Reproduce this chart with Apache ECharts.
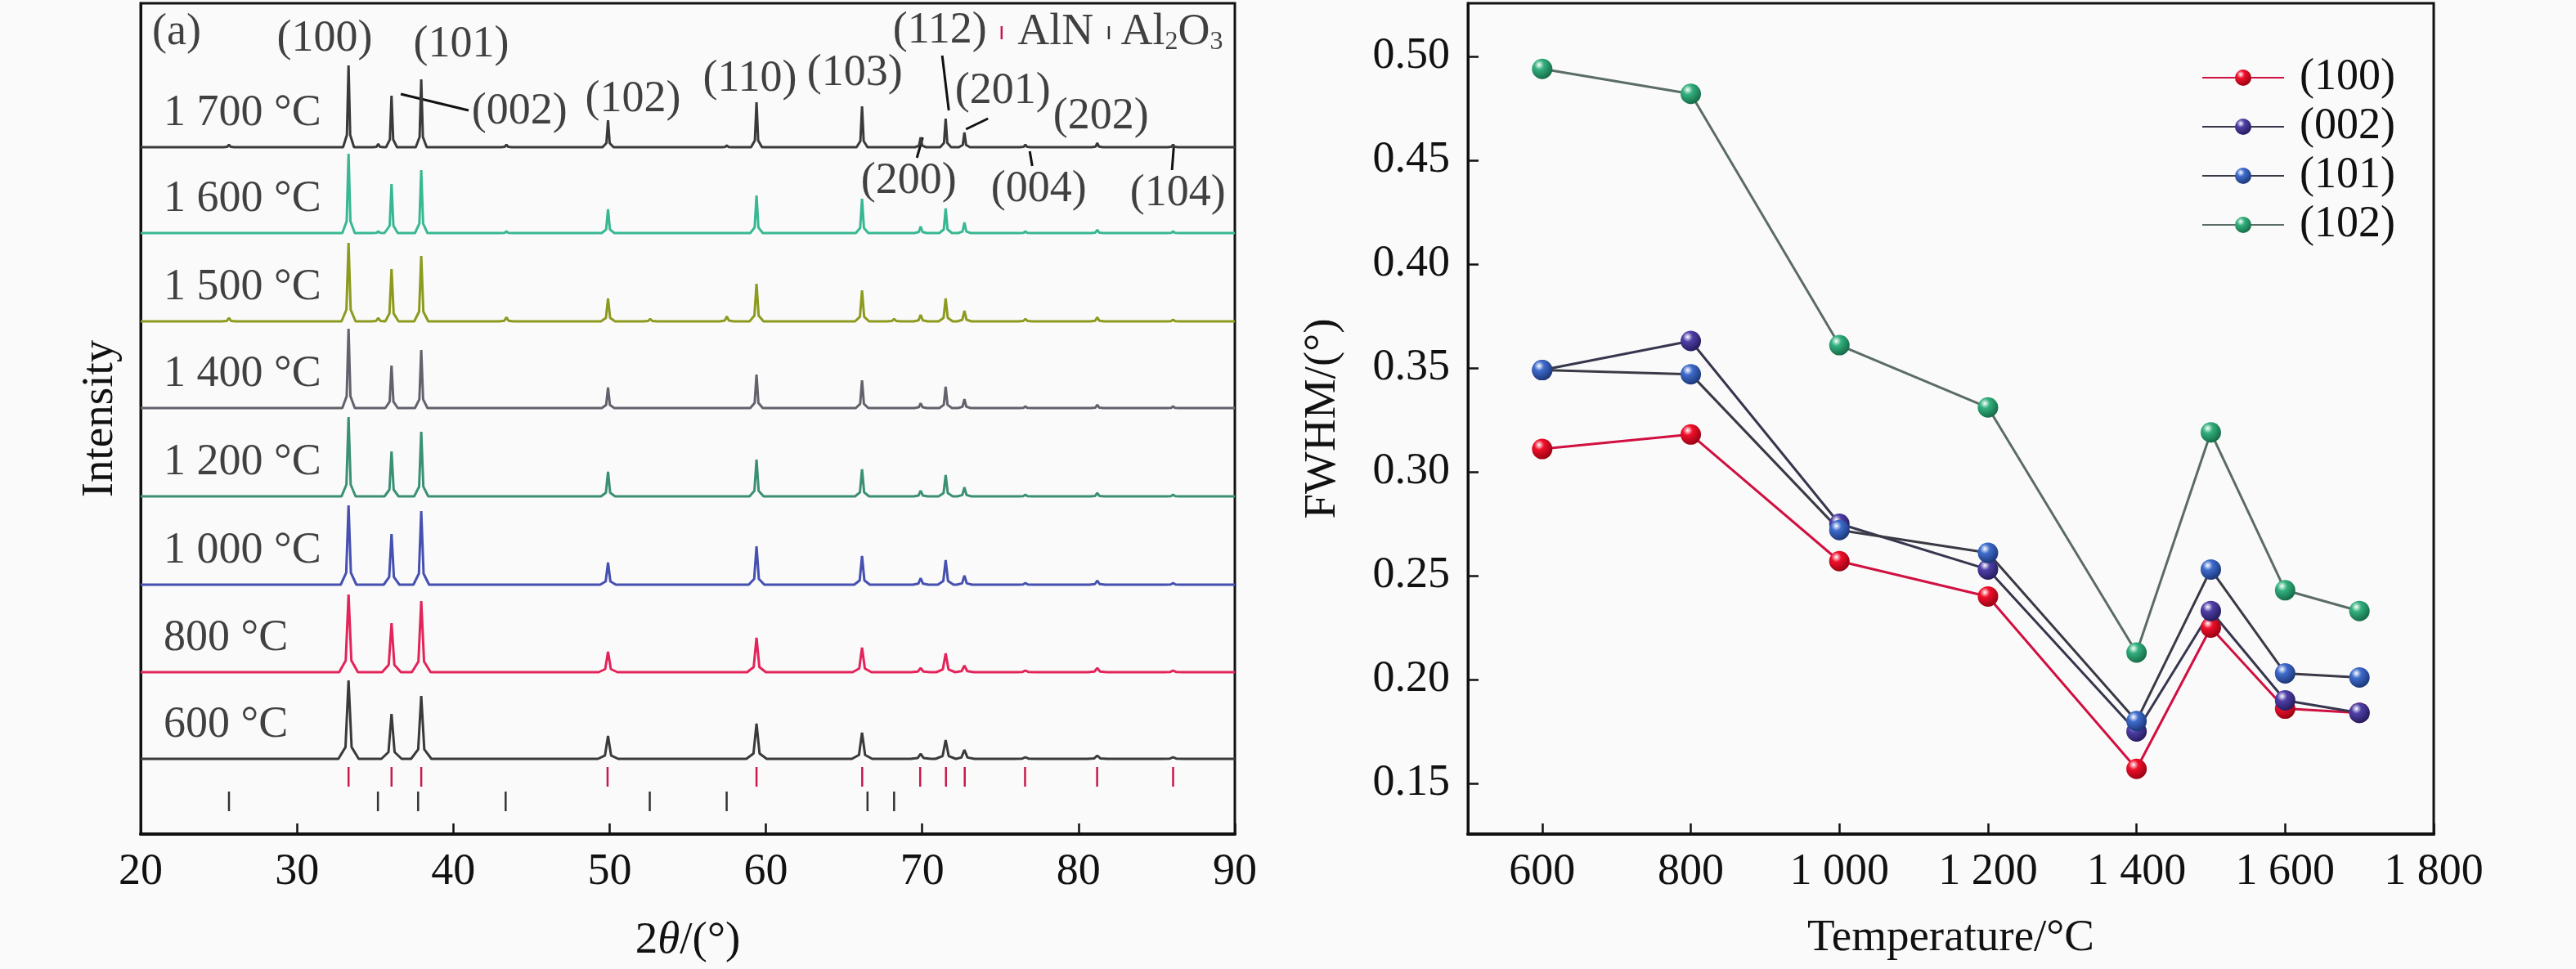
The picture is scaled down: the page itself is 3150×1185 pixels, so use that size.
<!DOCTYPE html>
<html>
<head>
<meta charset="utf-8">
<script src="https://cdn.jsdelivr.net/npm/echarts@6.0.0/dist/echarts.min.js"></script>
<style>
  html, body { margin: 0; padding: 0; background: #fafafa; }
  #main { width: 3150px; height: 1185px; }
</style>
</head>
<body>
<div id="main"></div>
<script>
// ---- (a) XRD patterns ----
const temps = ['600 °C', '800 °C', '1 000 °C', '1 200 °C', '1 400 °C', '1 500 °C', '1 600 °C', '1 700 °C'];
const offsets = [92, 198, 305, 413, 521, 627, 735, 840];
const halfWidths = [0.65, 0.6, 0.5, 0.45, 0.4, 0.45, 0.4, 0.35];
const lineColors = ['#3a3a3a', '#e2245a', '#4550b0', '#3a8f75', '#62626c', '#8c9a1e', '#38b892', '#3a3a3a'];

// AlN reflections (2θ) and heights per pattern
const alnPeaks = [33.3, 36.05, 37.95, 49.9, 59.4, 66.15, 69.9, 71.5, 72.7, 76.6, 81.2, 86.05];
const alnHeights = [
  [96, 55, 77, 28, 43, 32, 6, 23, 11, 2, 4, 2],
  [95, 60, 87, 25, 42, 30, 5, 23, 8, 2, 5, 2],
  [97, 62, 90, 27, 47, 35, 8, 30, 11, 2, 5, 2],
  [97, 55, 79, 30, 45, 33, 7, 26, 11, 2, 4, 2],
  [97, 52, 71, 25, 41, 34, 6, 26, 11, 2, 4, 2],
  [96, 64, 80, 28, 46, 38, 8, 28, 13, 3, 5, 2],
  [97, 60, 77, 29, 46, 42, 8, 30, 13, 2, 4, 2],
  [100, 63, 83, 33, 55, 50, 12, 35, 18, 3, 5, 3]
];
// small Al2O3 peaks
const al2o3Peaks = [25.65, 35.2, 43.4, 52.6, 57.5, 68.2];
const al2o3Heights = [
  [0, 0, 0, 0, 0, 0],
  [0, 0, 0, 0, 0, 0],
  [0, 0, 0, 0, 0, 0],
  [0, 0, 0, 0, 0, 0],
  [0, 0, 0, 0, 0, 0],
  [4, 4, 5, 3, 6, 3],
  [0, 2, 2, 0, 0, 0],
  [3, 4, 3, 0, 2, 0]
];
// reference card positions
const alnRef = [33.3, 36.05, 37.95, 49.87, 59.4, 66.16, 69.87, 71.52, 72.72, 76.58, 81.19, 86.05];
const al2o3Ref = [25.65, 35.18, 37.75, 43.35, 52.57, 57.49, 66.5, 68.2];

// peak annotations [text, 2θ, intensity]
const peakLabels = [
  ['(a)', 22.3, 980], ['(100)', 31.77, 972], ['(101)', 40.51, 965], ['(002)', 44.23, 883],
  ['(102)', 51.5, 898], ['(110)', 58.98, 923], ['(103)', 65.68, 930], ['(112)', 71.13, 982],
  ['(201)', 75.16, 908], ['(202)', 81.43, 877], ['(200)', 69.14, 798], ['(004)', 77.46, 788],
  ['(104)', 86.35, 783]
];
// leader lines [x1, y1, x2, y2]
const leaders = [
  [36.64, 905, 40.98, 885], [71.28, 952, 71.7, 885], [74.21, 875, 72.8, 862],
  [69.66, 827, 70.03, 852], [76.88, 835, 77.04, 817], [86.09, 840, 85.98, 812]
];

// ---- (b) FWHM ----
const fwhmTemps = [600, 800, 1000, 1200, 1400, 1500, 1600, 1700];
const fwhm100 = [0.311, 0.318, 0.257, 0.240, 0.157, 0.225, 0.186, 0.184];
const fwhm002 = [0.349, 0.363, 0.275, 0.253, 0.175, 0.233, 0.190, 0.184];
const fwhm101 = [0.349, 0.347, 0.272, 0.261, 0.180, 0.253, 0.203, 0.201];
const fwhm102 = [0.494, 0.482, 0.361, 0.331, 0.213, 0.319, 0.243, 0.233];
const tempTicks = [600, 800, 1000, 1200, 1400, 1600, 1800];
const fwhmTicks = [0.15, 0.20, 0.25, 0.30, 0.35, 0.40, 0.45, 0.50];

const FONT = 'Liberation Serif';
const FS = 54;

function pattern(i) {
  const b = offsets[i], hw = halfWidths[i];
  const peaks = [];
  alnPeaks.forEach((p, k) => peaks.push([p, alnHeights[i][k]]));
  al2o3Peaks.forEach((p, k) => { if (al2o3Heights[i][k] > 0) peaks.push([p, al2o3Heights[i][k]]); });
  peaks.sort((a, c) => a[0] - c[0]);
  const pts = [[20, b]];
  peaks.forEach(([p, h]) => {
    pts.push([p - hw, b], [p - hw * 0.3, b + h * 0.15], [p, b + h],
             [p + hw * 0.3, b + h * 0.15], [p + hw, b]);
  });
  pts.push([90, b]);
  return pts;
}

function vline(color, width) {
  return function (params, api) {
    const p1 = api.coord([api.value(0), api.value(1)]);
    const p2 = api.coord([api.value(2), api.value(3)]);
    return { type: 'line', shape: { x1: p1[0], y1: p1[1], x2: p2[0], y2: p2[1] },
             style: { stroke: color, lineWidth: width } };
  };
}

function sphere(base, dark) {
  return { type: 'radial', x: 0.35, y: 0.3, r: 0.8,
    colorStops: [{ offset: 0, color: '#ffffff' }, { offset: 0.3, color: base }, { offset: 1, color: dark }] };
}

const series = [];
temps.forEach((t, i) => {
  series.push({
    type: 'line', xAxisIndex: 0, yAxisIndex: 0, data: pattern(i), showSymbol: false,
    lineStyle: { color: lineColors[i], width: 3 }, silent: true
  });
});
series.push({
  type: 'custom', xAxisIndex: 0, yAxisIndex: 0, renderItem: vline('#c8184c', 2.5),
  data: alnRef.map(x => [x, 58, x, 82]).concat([[75.08, 972, 75.08, 988]]), silent: true
});
series.push({
  type: 'custom', xAxisIndex: 0, yAxisIndex: 0, renderItem: vline('#333', 2.5),
  data: al2o3Ref.map(x => [x, 28, x, 52]).concat([[81.94, 972, 81.94, 988]]), silent: true
});
series.push({
  type: 'custom', xAxisIndex: 0, yAxisIndex: 0, renderItem: vline('#111', 3),
  data: leaders, silent: true
});
// peak labels
series.push({
  type: 'scatter', xAxisIndex: 0, yAxisIndex: 0, symbolSize: 0.1, itemStyle: { color: 'transparent' },
  data: peakLabels.map(d => ({ value: [d[1], d[2]], name: d[0] })), silent: true,
  label: { show: true, position: 'inside', formatter: p => p.name, color: '#111',
           fontFamily: FONT, fontSize: FS }
});
// temperature labels
series.push({
  type: 'scatter', xAxisIndex: 0, yAxisIndex: 0, symbolSize: 0.1, itemStyle: { color: 'transparent' },
  data: temps.map((t, i) => ({ value: [21.47, offsets[i] + 41], name: t })), silent: true,
  label: { show: true, position: 'inside', align: 'left', formatter: p => p.name, color: '#111',
           fontFamily: FONT, fontSize: FS }
});
// phase legend texts
series.push({
  type: 'scatter', xAxisIndex: 0, yAxisIndex: 0, symbolSize: 0.1, itemStyle: { color: 'transparent' },
  data: [{ value: [76.1, 980], name: 'AlN' }, { value: [82.7, 980], name: 'Al2O3' }], silent: true,
  label: { show: true, position: 'inside', align: 'left', color: '#111', fontFamily: FONT,
    formatter: p => p.name === 'AlN' ? '{n|AlN}' : '{n|Al}{s|2}{n|O}{s|3}',
    rich: { n: { fontFamily: FONT, fontSize: FS, lineHeight: 56, color: '#111' },
            s: { fontFamily: FONT, fontSize: 32, lineHeight: 56, verticalAlign: 'bottom', color: '#111' } } }
});

// FWHM series
const fw = [
  ['(100)', fwhm100, '#d01040', sphere('#f0102a', '#8a0010')],
  ['(002)', fwhm002, '#36364e', sphere('#4f40a8', '#1e1650')],
  ['(101)', fwhm101, '#3a3a46', sphere('#3f6ccc', '#162e6a')],
  ['(102)', fwhm102, '#5b6c66', sphere('#33b07e', '#11603e')]
];
fw.forEach(([name, vals, lc, mc]) => {
  series.push({
    name, type: 'line', xAxisIndex: 1, yAxisIndex: 1,
    data: fwhmTemps.map((t, k) => [t, vals[k]]),
    symbol: 'circle', symbolSize: 25, showSymbol: true,
    lineStyle: { color: lc, width: 3 }, itemStyle: { color: mc, borderWidth: 0 }
  });
});

const axisLbl = { fontFamily: FONT, fontSize: FS, color: '#111' };
const chart = echarts.init(document.getElementById('main'));
chart.setOption({
  animation: false,
  backgroundColor: '#fafafa',
  grid: [
    { left: 172, top: 4, width: 1338, height: 1016, show: true, borderColor: '#111', borderWidth: 3 },
    { left: 1795, top: 4, width: 1181, height: 1016, show: true, borderColor: '#111', borderWidth: 3 }
  ],
  legend: {
    data: ['(100)', '(002)', '(101)', '(102)'], orient: 'vertical', left: 2687, top: 60,
    itemWidth: 100, itemHeight: 25, itemGap: 0,
    textStyle: { fontFamily: FONT, fontSize: FS, lineHeight: 60, color: '#111', padding: [0, 0, 0, 14] }
  },
  xAxis: [
    {
      gridIndex: 0, type: 'value', min: 20, max: 90, interval: 10,
      name: '{n|2}{i|θ}{n|/(°)}', nameLocation: 'middle', nameGap: 103,
      nameTextStyle: { rich: { n: { fontFamily: FONT, fontSize: 55, color: '#111' },
                               i: { fontFamily: FONT, fontSize: 55, fontStyle: 'italic', color: '#111' } } },
      axisLine: { lineStyle: { color: '#111', width: 4 } },
      axisTick: { inside: true, length: 13, lineStyle: { color: '#111', width: 2.5 } },
      axisLabel: Object.assign({ margin: 20 }, axisLbl),
      splitLine: { show: false }
    },
    {
      gridIndex: 1, type: 'value', min: 500, max: 1800,
      name: 'Temperature/°C', nameLocation: 'middle', nameGap: 100,
      nameTextStyle: { fontFamily: FONT, fontSize: 55, color: '#111' },
      axisLine: { lineStyle: { color: '#111', width: 4 } },
      axisTick: { inside: true, length: 13, lineStyle: { color: '#111', width: 2.5 }, customValues: tempTicks },
      axisLabel: Object.assign({ margin: 20, customValues: tempTicks,
        formatter: v => String(v).replace(/\B(?=(\d{3})+(?!\d))/g, ' ') }, axisLbl),
      splitLine: { show: false }
    }
  ],
  yAxis: [
    {
      gridIndex: 0, type: 'value', min: 0, max: 1016,
      name: 'Intensity', nameLocation: 'middle', nameGap: 22,
      nameTextStyle: { fontFamily: FONT, fontSize: 55, color: '#111' },
      axisLine: { show: true, lineStyle: { color: '#111', width: 3 } },
      axisTick: { show: false }, axisLabel: { show: false }, splitLine: { show: false }
    },
    {
      gridIndex: 1, type: 'value', min: 0.1256, max: 0.5256,
      name: 'FWHM/(°)', nameLocation: 'middle', nameGap: 150,
      nameTextStyle: { fontFamily: FONT, fontSize: 55, color: '#111' },
      axisLine: { show: true, lineStyle: { color: '#111', width: 3 } },
      axisTick: { inside: true, length: 13, lineStyle: { color: '#111', width: 2.5 }, customValues: fwhmTicks },
      axisLabel: Object.assign({ margin: 22, customValues: fwhmTicks, formatter: v => v.toFixed(2) }, axisLbl),
      splitLine: { show: false }
    }
  ],
  series
});
</script>
</body>
</html>
